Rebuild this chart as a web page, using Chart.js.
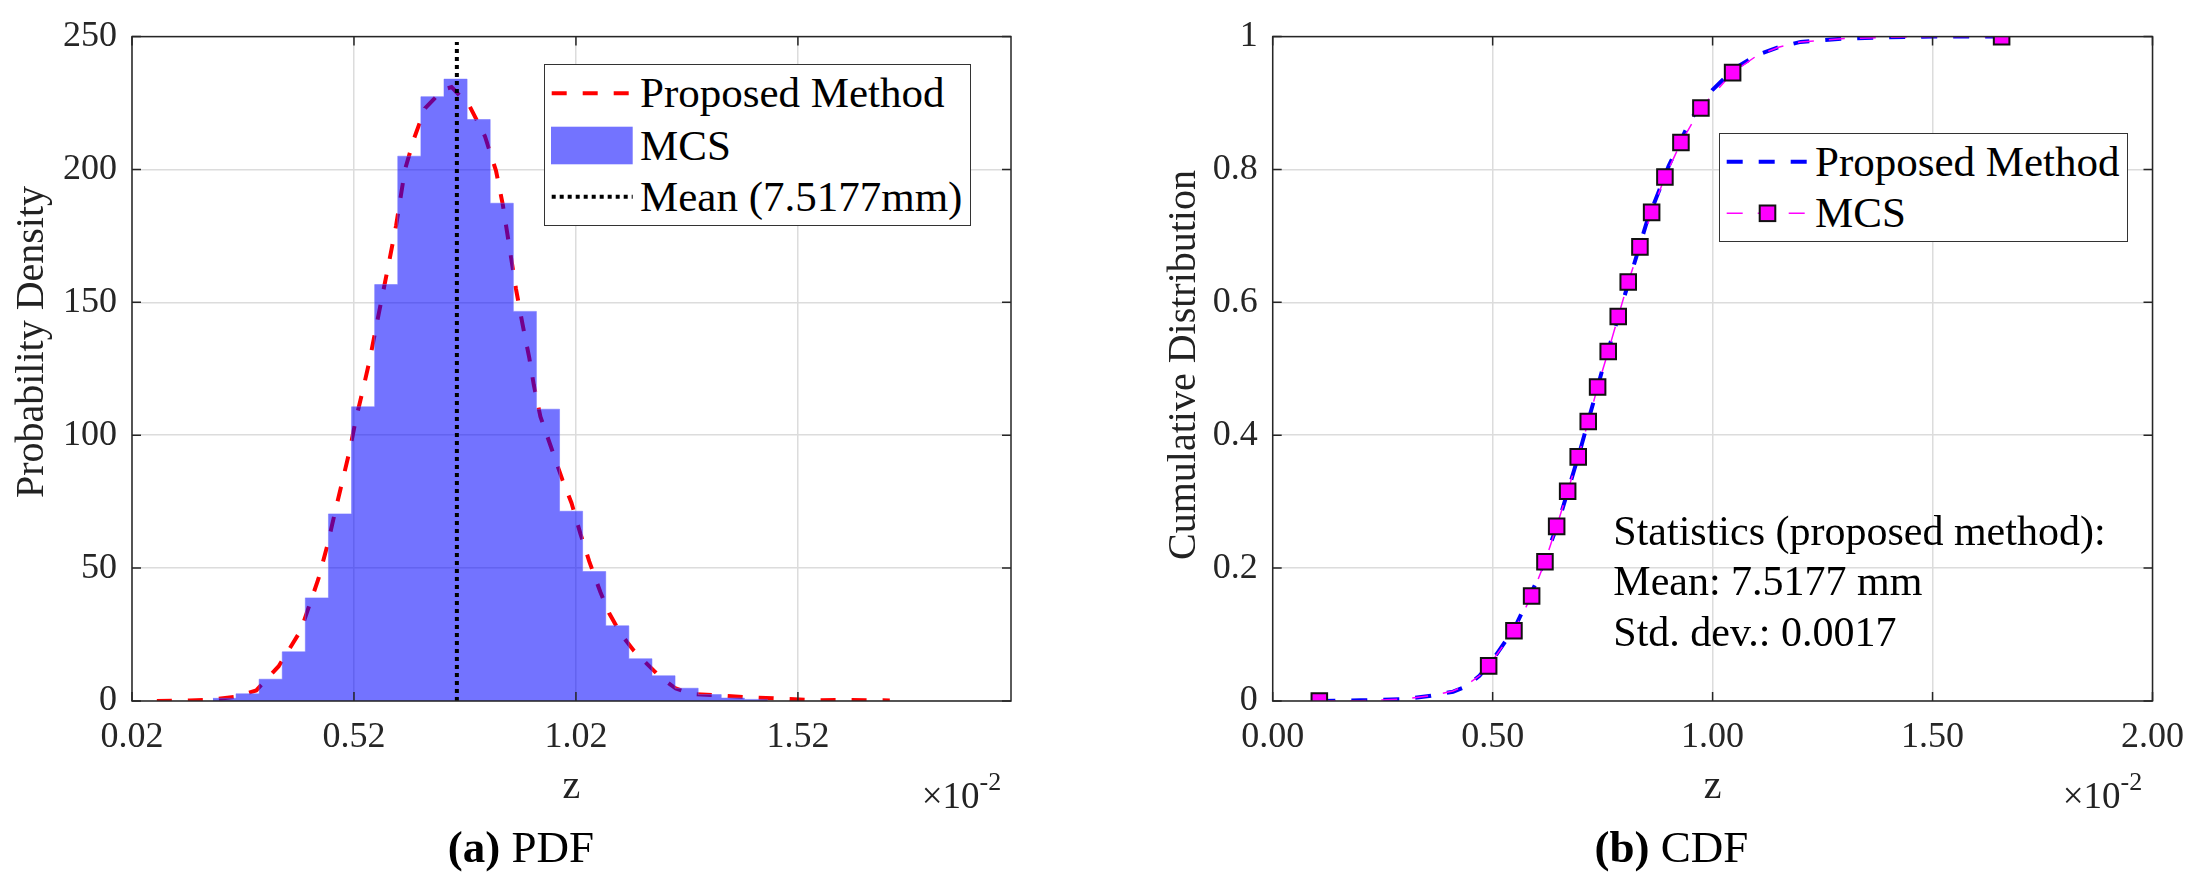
<!DOCTYPE html>
<html>
<head>
<meta charset="utf-8">
<script src="https://cdn.jsdelivr.net/npm/chart.js@4.4.1/dist/chart.umd.min.js"></script>
<style>
  html, body { margin: 0; padding: 0; background: #fff; overflow: hidden; }
  #fig { position: relative; width: 2199px; height: 887px; font-family: "Liberation Serif", "Times New Roman", serif; color: #111; }
  canvas { position: absolute; top: 0; }
  .t { position: absolute; white-space: nowrap; }
  .rot { position: absolute; width: 600px; height: 40px; line-height: 40px; font-size: 40px; text-align: center; transform: rotate(-90deg); color: #222; }
  .legend { position: absolute; box-sizing: border-box; border: 1.5px solid #333; background: #fff; }
  .lt { position: absolute; font-size: 43px; line-height: 50px; height: 50px; white-space: nowrap; color: #000; }
  svg { position: absolute; overflow: visible; }
</style>
</head>
<body>
<div id="fig">
  <canvas id="pdf" width="1100" height="887" style="left:0px;width:1100px;height:887px"></canvas>
  <canvas id="cdf" width="1099" height="887" style="left:1100px;width:1099px;height:887px"></canvas>

  <!-- axis titles -->
  <div class="rot" style="left:-270.2px;top:322px;">Probability Density</div>
  <div class="rot" style="left:881.5px;top:345px;">Cumulative Distribution</div>
  <div class="t" style="left:371.5px;width:400px;text-align:center;top:764.8px;font-size:40px;line-height:40px;color:#222;">z</div>
  <div class="t" style="left:1512.7px;width:400px;text-align:center;top:764.8px;font-size:40px;line-height:40px;color:#222;">z</div>
  <div class="t" style="left:921.7px;top:775.8px;font-size:37px;line-height:40px;color:#222;">×10<span style="position:relative;top:-18px;font-size:26px;">-2</span></div>
  <div class="t" style="left:2062.7px;top:775.8px;font-size:37px;line-height:40px;color:#222;">×10<span style="position:relative;top:-18px;font-size:26px;">-2</span></div>

  <!-- captions -->
  <div class="t" style="left:321px;width:400px;text-align:center;top:821.5px;font-size:45px;line-height:50px;color:#000;"><b>(a)</b> PDF</div>
  <div class="t" style="left:1471.5px;width:400px;text-align:center;top:821.5px;font-size:45px;line-height:50px;color:#000;"><b>(b)</b> CDF</div>

  <!-- left legend -->
  <div class="legend" style="left:543.7px;top:63.7px;width:427px;height:162.3px;"></div>
  <svg style="left:0;top:0;" width="1" height="1">
    <line x1="551.7" y1="93.3" x2="632.7" y2="93.3" stroke="#ff0000" stroke-width="4" stroke-dasharray="15 16"/>
    <rect x="551" y="126.7" width="81.7" height="37.6" fill="rgba(0,0,255,0.55)"/>
    <line x1="551.7" y1="196.7" x2="632.7" y2="196.7" stroke="#000" stroke-width="4" stroke-dasharray="4 4"/>
  </svg>
  <div class="lt" style="left:640px;top:68.3px;">Proposed Method</div>
  <div class="lt" style="left:640px;top:120.7px;">MCS</div>
  <div class="lt" style="left:640px;top:171.7px;">Mean (7.5177mm)</div>

  <!-- right legend -->
  <div class="legend" style="left:1718.7px;top:132.7px;width:409.6px;height:109px;"></div>
  <svg style="left:0;top:0;" width="1" height="1">
    <line x1="1726.7" y1="161.7" x2="1808.3" y2="161.7" stroke="#0000ff" stroke-width="4" stroke-dasharray="16 16"/>
    <line x1="1726.7" y1="213.3" x2="1808.3" y2="213.3" stroke="#ff00ff" stroke-width="1.5" stroke-dasharray="16 15"/>
    <rect x="1759.7" y="205.5" width="15.6" height="15.6" fill="#ff00ff" stroke="#111" stroke-width="2"/>
  </svg>
  <div class="lt" style="left:1815px;top:136.7px;">Proposed Method</div>
  <div class="lt" style="left:1815px;top:188.3px;">MCS</div>

  <!-- statistics annotation -->
  <div class="t" style="left:1613.3px;top:505.6px;font-size:42px;line-height:50.5px;color:#000;">Statistics (proposed method):<br>Mean: 7.5177 mm<br>Std. dev.: 0.0017</div>
</div>

<script>
// ---------------- data ----------------
// (a) PDF : histogram of MCS samples (bin centres, x in units of 1e-2)
const binCenters = [0.2283, 0.2804, 0.3324, 0.3845, 0.4365, 0.4886, 0.5406, 0.5927, 0.6447, 0.6968,
                    0.7488, 0.8009, 0.8529, 0.9050, 0.9570, 1.0091, 1.0611, 1.1132, 1.1652, 1.2173,
                    1.2693, 1.3214, 1.3734, 1.4255];
const binDensity = [1.0, 2.7, 8.2, 18.5, 38.8, 70.4, 110.7, 156.7, 205, 227.4,
                    234, 218.8, 187.3, 146.6, 109.8, 71.4, 48.7, 28.3, 15.9, 9.5,
                    4.8, 2.4, 1.1, 0.6];
// (a) PDF : proposed method curve
const pdfX = [0.076, 0.15, 0.20, 0.25, 0.30, 0.35, 0.40, 0.44, 0.46, 0.48, 0.51, 0.525, 0.54, 0.555, 0.575,
              0.60, 0.615, 0.635, 0.655, 0.68, 0.72, 0.74, 0.78, 0.815, 0.84, 0.855, 0.87, 0.885, 0.90,
              0.915, 0.925, 0.94, 0.965, 0.99, 1.01, 1.03, 1.05, 1.075, 1.095, 1.12, 1.15, 1.18, 1.21,
              1.245, 1.28, 1.34, 1.40, 1.48, 1.56, 1.64, 1.727];
const pdfY = [0, 0.2, 0.5, 1.5, 4, 13, 26.5, 46, 58.5, 73, 94, 106.5, 117, 128, 145,
              166, 179, 200, 211.5, 223, 230, 231, 224, 212.5, 199.5, 187, 171, 155, 141.5,
              129, 119, 107, 95, 83, 74.5, 63, 52.5, 41, 33, 25.5, 19, 14, 9,
              4.7, 2.7, 2.1, 1.5, 0.9, 0.3, 0.4, 0.2];
const meanZ = 0.75177;           // mean line position
const meanLineTop = 248;         // mean line drawn up to this density
// (b) CDF : proposed method curve
const cdfX = [0.106, 0.2, 0.3, 0.36, 0.41, 0.44, 0.47, 0.5, 0.55, 0.6, 0.65, 0.7, 0.75, 0.8, 0.85,
              0.9, 0.95, 1.0, 1.05, 1.1, 1.15, 1.2, 1.3, 1.4, 1.5, 1.657];
const cdfY = [0, 0.001, 0.003, 0.008, 0.014, 0.022, 0.038, 0.062, 0.11, 0.18, 0.27, 0.38, 0.50, 0.61, 0.72,
              0.805, 0.875, 0.92, 0.952, 0.972, 0.984, 0.992, 0.997, 0.999, 1.0, 1.0];
// (b) CDF : MCS empirical curve (thin line)
const mcsLineX = [0.106, 0.2, 0.3, 0.36, 0.41, 0.44, 0.47, 0.4909, 0.5484, 0.5886, 0.6189, 0.6455, 0.6705,
                  0.6945, 0.7173, 0.7386, 0.7627, 0.7855, 0.8082, 0.8348, 0.8614, 0.8916, 0.928, 0.9734,
                  1.0455, 1.1, 1.15, 1.2, 1.3, 1.4, 1.5, 1.657];
const mcsLineY = [0, 0.0005, 0.003, 0.008, 0.015, 0.024, 0.038, 0.0529, 0.1058, 0.158, 0.2095, 0.2628, 0.3156,
                  0.3674, 0.4207, 0.4726, 0.526, 0.5788, 0.6307, 0.6835, 0.7354, 0.7887, 0.8406, 0.8924,
                  0.9458, 0.971, 0.984, 0.992, 0.997, 0.999, 1.0, 1.0];
// (b) CDF : MCS markers
const mcsX = [0.106, 0.4909, 0.5484, 0.5886, 0.6189, 0.6455, 0.6705, 0.6945, 0.7173, 0.7386,
              0.7627, 0.7855, 0.8082, 0.8348, 0.8614, 0.8916, 0.928, 0.9734, 1.0455, 1.657];
const mcsY = [0, 0.0529, 0.1058, 0.158, 0.2095, 0.2628, 0.3156, 0.3674, 0.4207, 0.4726,
              0.526, 0.5788, 0.6307, 0.6835, 0.7354, 0.7887, 0.8406, 0.8924, 0.9458, 1.0];
// ticks
const pdfXTicks = [0.02, 0.52, 1.02, 1.52];
const pdfXLabels = ['0.02', '0.52', '1.02', '1.52'];
const pdfYTicks = [0, 50, 100, 150, 200, 250];
const pdfYLabels = ['0', '50', '100', '150', '200', '250'];
const cdfXTicks = [0, 0.5, 1, 1.5, 2];
const cdfXLabels = ['0.00', '0.50', '1.00', '1.50', '2.00'];
const cdfYTicks = [0, 0.2, 0.4, 0.6, 0.8, 1];
const cdfYLabels = ['0', '0.2', '0.4', '0.6', '0.8', '1'];

// ---------------- helpers ----------------
const zip = (xs, ys) => xs.map((x, i) => ({ x: x, y: ys[i] }));
// histogram outline as a stepped area: left edge of each bin carries its height; close at last right edge
function histSteps(centers, heights) {
  const w = centers[1] - centers[0];
  const pts = centers.map((c, i) => ({ x: c - w / 2, y: heights[i] }));
  pts.push({ x: centers[centers.length - 1] + w / 2, y: 0 });
  return pts;
}
Chart.defaults.font.family = '"Liberation Serif", "Times New Roman", serif';
Chart.defaults.color = '#262626';

const frame = {
  id: 'frame',
  afterDatasetsDraw(chart) {
    const { ctx, chartArea: a, scales: { x, y } } = chart;
    ctx.save();
    ctx.strokeStyle = '#262626';
    ctx.lineWidth = 1.5;
    ctx.strokeRect(a.left, a.top, a.right - a.left, a.bottom - a.top);
    const L = 9;
    ctx.beginPath();
    x.ticks.forEach(t => {
      const px = x.getPixelForValue(t.value);
      ctx.moveTo(px, a.bottom); ctx.lineTo(px, a.bottom - L);
      ctx.moveTo(px, a.top); ctx.lineTo(px, a.top + L);
    });
    y.ticks.forEach(t => {
      const py = y.getPixelForValue(t.value);
      ctx.moveTo(a.left, py); ctx.lineTo(a.left + L, py);
      ctx.moveTo(a.right, py); ctx.lineTo(a.right - L, py);
    });
    ctx.stroke();
    ctx.restore();
  }
};

function axes(xmin, xmax, xTicks, xLabels, ymin, ymax, yTicks, yLabels, yWidth) {
  const grid = { color: '#dcdcdc', lineWidth: 1.5, drawTicks: false };
  return {
    x: {
      type: 'linear', min: xmin, max: xmax, offset: false,
      grid: Object.assign({ offset: false }, grid), border: { display: false },
      afterBuildTicks: s => { s.ticks = xTicks.map(v => ({ value: v })); },
      afterFit: s => { s.height = 186; },
      ticks: { padding: 15, maxRotation: 0, autoSkip: false, font: { size: 36 }, color: '#262626',
               callback: (v, i) => xLabels[i] }
    },
    y: {
      type: 'linear', min: ymin, max: ymax,
      grid: grid, border: { display: false },
      afterBuildTicks: s => { s.ticks = yTicks.map(v => ({ value: v })); },
      afterFit: s => { s.width = yWidth; },
      ticks: { padding: 15, autoSkip: false, font: { size: 36 }, color: '#262626',
               callback: (v, i) => yLabels[i] }
    }
  };
}

const common = {
  responsive: false, animation: false, events: [],
  plugins: { legend: { display: false }, tooltip: { enabled: false } },
  elements: { line: { tension: 0 }, point: { radius: 0 } }
};

// ---------------- (a) PDF ----------------
new Chart(document.getElementById('pdf'), {
  type: 'line',
  data: {
    datasets: [
      { type: 'line', label: 'Mean (7.5177mm)', order: 0,
        data: [{ x: meanZ, y: 0 }, { x: meanZ, y: meanLineTop }],
        borderColor: '#000', borderWidth: 4, borderDash: [4, 4], borderCapStyle: 'butt', pointRadius: 0 },
      { type: 'line', label: 'MCS', order: 1,
        data: histSteps(binCenters, binDensity),
        stepped: 'before', fill: 'origin',
        backgroundColor: 'rgba(0,0,255,0.55)', borderColor: 'rgba(110,110,255,0.5)', borderWidth: 1, pointRadius: 0 },
      { type: 'line', label: 'Proposed Method', order: 2,
        data: zip(pdfX, pdfY),
        borderColor: '#ff0000', borderWidth: 4, borderDash: [15, 16], borderCapStyle: 'butt', pointRadius: 0 }
    ]
  },
  options: Object.assign({}, common, {
    layout: { padding: { left: 0, top: 26, right: 89, bottom: 0 } },
    scales: axes(0.02, 2.0, pdfXTicks, pdfXLabels, 0, 250, pdfYTicks, pdfYLabels, 132)
  }),
  plugins: [frame]
});

// ---------------- (b) CDF ----------------
new Chart(document.getElementById('cdf'), {
  type: 'line',
  data: {
    datasets: [
      { type: 'line', label: 'MCS markers', order: 0, showLine: false,
        data: zip(mcsX, mcsY),
        pointStyle: 'rect', pointRadius: 11, pointBackgroundColor: '#ff00ff',
        pointBorderColor: '#111', pointBorderWidth: 2 },
      { type: 'line', label: 'MCS', order: 1,
        data: zip(mcsLineX, mcsLineY),
        borderColor: '#ff00ff', borderWidth: 1.5, borderDash: [16, 15], borderCapStyle: 'butt', pointRadius: 0 },
      { type: 'line', label: 'Proposed Method', order: 2,
        data: zip(cdfX, cdfY),
        borderColor: '#0000ff', borderWidth: 4, borderDash: [16, 16], borderCapStyle: 'butt', pointRadius: 0 }
    ]
  },
  options: Object.assign({}, common, {
    layout: { padding: { left: 0, top: 26, right: 46.3, bottom: 0 } },
    scales: axes(0, 2, cdfXTicks, cdfXLabels, 0, 1, cdfYTicks, cdfYLabels, 172.7)
  }),
  plugins: [frame]
});
</script>
</body>
</html>
